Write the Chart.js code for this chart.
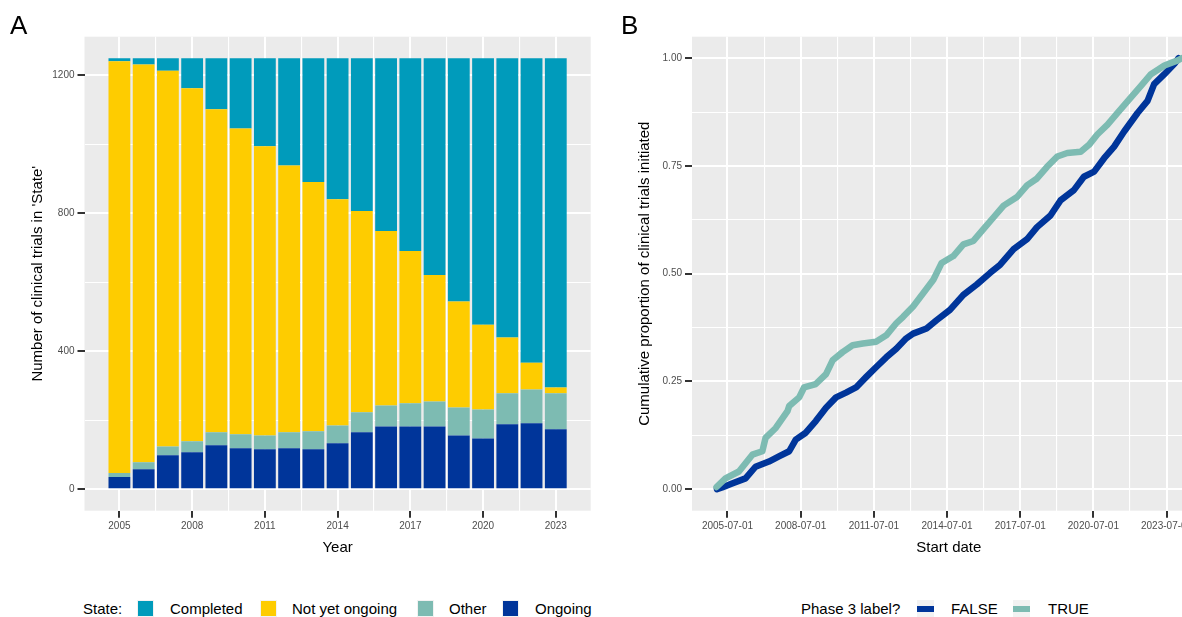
<!DOCTYPE html>
<html>
<head>
<meta charset="utf-8">
<script src="https://cdn.jsdelivr.net/npm/chart.js@4.4.0/dist/chart.umd.min.js"></script>
<style>
  html, body { margin: 0; padding: 0; background: #fff; }
  body { position: relative; width: 1182px; height: 617px; overflow: hidden;
         font-family: 'Liberation Sans', Arial, sans-serif; }
  canvas { position: absolute; top: 0; }
  #chartA { left: 0; }
  #chartB { left: 600px; }
  .tag { position: absolute; top: 12px; font-size: 26px; line-height: 26px; color: #000; }
  .lg { position: absolute; top: 600px; font-size: 15px; line-height: 18px; color: #000; white-space: nowrap; }
  .key { position: absolute; top: 600px; width: 17px; height: 17px; background: #F2F2F2; }
  .key .fill { position: absolute; left: 1px; top: 1px; width: 15px; height: 15px; }
  .key .line { position: absolute; left: 0; top: 5.5px; width: 17px; height: 6px; }
</style>
</head>
<body>
<canvas id="chartA" width="600" height="580"></canvas>
<canvas id="chartB" width="620" height="580"></canvas>

<div class="tag" style="left:10px">A</div>
<div class="tag" style="left:621px">B</div>

<!-- legend A -->
<div class="lg" style="left:83px">State:</div>
<div class="key" style="left:137px"><div class="fill" style="background:#009BBB"></div></div>
<div class="lg" style="left:170px">Completed</div>
<div class="key" style="left:260px"><div class="fill" style="background:#FECC00"></div></div>
<div class="lg" style="left:292px">Not yet ongoing</div>
<div class="key" style="left:417px"><div class="fill" style="background:#7DBBB2"></div></div>
<div class="lg" style="left:449px">Other</div>
<div class="key" style="left:502px"><div class="fill" style="background:#00359A"></div></div>
<div class="lg" style="left:535px">Ongoing</div>

<!-- legend B -->
<div class="lg" style="left:801px">Phase 3 label?</div>
<div class="key" style="left:917px"><div class="line" style="background:#00359A"></div></div>
<div class="lg" style="left:951px">FALSE</div>
<div class="key" style="left:1013px"><div class="line" style="background:#7DBBB2"></div></div>
<div class="lg" style="left:1048px">TRUE</div>

<script>
// ---- panel A: trials by state per year ----
const years = [2005, 2006, 2007, 2008, 2009, 2010, 2011, 2012, 2013, 2014,
               2015, 2016, 2017, 2018, 2019, 2020, 2021, 2022, 2023];
const ongoing = [35, 58, 98, 107, 127, 119, 116, 119, 116, 133,
                 165, 182, 182, 182, 156, 147, 188, 191, 174];
const other = [12, 20, 26, 32, 38, 40, 40, 46, 52, 52,
               58, 61, 67, 72, 81, 84, 90, 98, 104];
const notYetOngoing = [1194, 1154, 1090, 1024, 937, 887, 839, 774, 723, 656,
                       584, 506, 442, 367, 307, 246, 162, 78, 17];
const completed = [9, 18, 36, 87, 148, 204, 255, 311, 359, 409,
                   443, 501, 559, 629, 706, 773, 810, 883, 955];

const yearTicks = [2005, 2008, 2011, 2014, 2017, 2020, 2023];
const yearMinor = [2006.5, 2009.5, 2012.5, 2015.5, 2018.5, 2021.5];
const countTicks = [0, 400, 800, 1200];
const countMinor = [200, 600, 1000];

// ---- panel B: cumulative proportion by start date (decimal years) ----
const falseYears = [2005.07, 2005.28, 2005.69, 2006.24, 2006.65, 2007.20, 2007.61, 2008.03, 2008.30, 2008.71,
                    2009.12, 2009.54, 2009.95, 2010.36, 2010.77, 2011.18, 2011.59, 2012.01, 2012.42, 2012.83,
                    2013.11, 2013.66, 2014.07, 2014.62, 2015.17, 2015.72, 2016.27, 2016.68, 2017.23, 2017.78,
                    2018.19, 2018.74, 2019.15, 2019.70, 2020.11, 2020.53, 2020.94, 2021.35, 2021.76, 2022.31,
                    2022.72, 2022.99, 2023.41, 2023.82, 2023.99];
const falseProp = [0.0, 0.004, 0.013, 0.025, 0.052, 0.064, 0.076, 0.088, 0.115, 0.131,
                   0.158, 0.189, 0.213, 0.224, 0.236, 0.260, 0.283, 0.306, 0.326, 0.350,
                   0.361, 0.373, 0.392, 0.416, 0.451, 0.475, 0.502, 0.521, 0.557, 0.580,
                   0.608, 0.635, 0.670, 0.694, 0.725, 0.737, 0.768, 0.795, 0.830, 0.873,
                   0.901, 0.940, 0.963, 0.987, 1.0];
const trueYears = [2005.05, 2005.42, 2005.97, 2006.52, 2006.93, 2007.06, 2007.48, 2007.96, 2008.03, 2008.44,
                   2008.64, 2009.12, 2009.54, 2009.81, 2010.22, 2010.63, 2011.05, 2011.59, 2012.01, 2012.42,
                   2012.70, 2013.11, 2013.53, 2013.94, 2014.28, 2014.76, 2015.17, 2015.58, 2016.00, 2016.41,
                   2016.82, 2017.37, 2017.78, 2018.19, 2018.60, 2019.02, 2019.43, 2019.98, 2020.32, 2020.66,
                   2021.08, 2021.49, 2022.04, 2022.45, 2022.86, 2023.41, 2023.96, 2024.12];
const trueProp = [0.005, 0.025, 0.041, 0.080, 0.088, 0.119, 0.142, 0.181, 0.193, 0.213,
                  0.236, 0.244, 0.267, 0.299, 0.318, 0.334, 0.338, 0.342, 0.357, 0.385,
                  0.400, 0.424, 0.455, 0.486, 0.525, 0.541, 0.568, 0.576, 0.604, 0.631,
                  0.658, 0.678, 0.705, 0.721, 0.748, 0.772, 0.780, 0.783, 0.799, 0.823,
                  0.846, 0.873, 0.909, 0.936, 0.963, 0.983, 0.995, 1.0];

const dateTicks = [2005.5, 2008.5, 2011.5, 2014.5, 2017.5, 2020.5, 2023.5];
const dateLabels = ['2005-07-01', '2008-07-01', '2011-07-01', '2014-07-01',
                    '2017-07-01', '2020-07-01', '2023-07-01'];
const dateMinor = [2007, 2010, 2013, 2016, 2019, 2022, 2025];
const propTicks = [0, 0.25, 0.5, 0.75, 1];
const propMinor = [0.125, 0.375, 0.625, 0.875];

const COLORS = {
  completed: '#009BBB',
  notYet: '#FECC00',
  other: '#7DBBB2',
  ongoing: '#00359A',
};

Chart.defaults.font.family = "'Liberation Sans', Arial, sans-serif";

// grey ggplot panel behind the grid
const panelBg = {
  id: 'panelBg',
  beforeDraw(chart) {
    const { ctx, chartArea: a } = chart;
    ctx.save();
    ctx.fillStyle = '#EBEBEB';
    ctx.fillRect(a.left, a.top, a.right - a.left, a.bottom - a.top);
    ctx.restore();
  },
};

// shared axis styling; majors get labels + tick marks, minors only a thin line
const axis = (majors, minors, labelFn, extra) => Object.assign({
  type: 'linear',
  afterBuildTicks: (s) => {
    s.ticks = majors.concat(minors).sort((a, b) => a - b).map((v) => ({ value: v }));
  },
  border: { display: false },
  grid: {
    color: '#FFFFFF',
    lineWidth: (c) => (c.tick && majors.includes(c.tick.value) ? 2 : 1.1),
    tickColor: (c) => (c.tick && majors.includes(c.tick.value) ? '#333333' : 'rgba(0,0,0,0)'),
    tickLength: 7,
    tickWidth: 2,
  },
  ticks: {
    autoSkip: false,
    maxRotation: 0,
    minRotation: 0,
    color: '#4D4D4D',
    font: { size: 10 },
    callback: (v) => (majors.includes(v) ? labelFn(v) : ''),
  },
}, extra);

const titleFont = { size: 15 };

new Chart(document.getElementById('chartA'), {
  type: 'bar',
  data: {
    datasets: [
      { label: 'Ongoing', data: years.map((y, i) => ({ x: y, y: ongoing[i] })), backgroundColor: COLORS.ongoing },
      { label: 'Other', data: years.map((y, i) => ({ x: y, y: other[i] })), backgroundColor: COLORS.other },
      { label: 'Not yet ongoing', data: years.map((y, i) => ({ x: y, y: notYetOngoing[i] })), backgroundColor: COLORS.notYet },
      { label: 'Completed', data: years.map((y, i) => ({ x: y, y: completed[i] })), backgroundColor: COLORS.completed },
    ],
  },
  plugins: [panelBg],
  options: {
    responsive: false,
    animation: false,
    events: [],
    layout: { padding: { left: 20, right: 9.3, top: 36.7, bottom: 20 } },
    datasets: { bar: { categoryPercentage: 1, barPercentage: 0.9, borderWidth: 0 } },
    plugins: { legend: { display: false }, tooltip: { enabled: false } },
    scales: {
      x: axis(yearTicks, yearMinor, (v) => String(v), {
        min: 2003.56, max: 2024.44, offset: false, stacked: true,
        afterFit: (s) => { s.height = 49.3; },
        title: { display: true, text: 'Year', color: '#000', font: titleFont, padding: { top: 0, bottom: 3 } },
      }),
      y: axis(countTicks, countMinor, (v) => String(v), {
        min: -62.5, max: 1312.5, stacked: true,
        afterFit: (s) => { s.width = 64.5; },
        title: { display: true, text: "Number of clinical trials in 'State'", color: '#000', font: titleFont, padding: { top: 8.5, bottom: 0 } },
      }),
    },
  },
});

// bar charts put grid lines between categories by default; keep them on the values
Chart.getChart('chartA').options.scales.x.grid.offset = false;
Chart.getChart('chartA').update();

new Chart(document.getElementById('chartB'), {
  type: 'line',
  data: {
    datasets: [
      { label: 'TRUE', data: trueYears.map((x, i) => ({ x, y: trueProp[i] })), borderColor: COLORS.other },
      { label: 'FALSE', data: falseYears.map((x, i) => ({ x, y: falseProp[i] })), borderColor: COLORS.ongoing },
    ],
  },
  plugins: [panelBg],
  options: {
    responsive: false,
    animation: false,
    events: [],
    layout: { padding: { left: 30, right: 14.4, top: 36.7, bottom: 20 } },
    elements: {
      point: { radius: 0 },
      line: { borderWidth: 6.5, tension: 0, borderJoinStyle: 'round', borderCapStyle: 'round', fill: false },
    },
    plugins: { legend: { display: false }, tooltip: { enabled: false } },
    scales: {
      x: axis(dateTicks, dateMinor, (v) => dateLabels[dateTicks.indexOf(v)], {
        min: 2004.046, max: 2025.1,
        afterFit: (s) => { s.height = 49.3; },
        title: { display: true, text: 'Start date', color: '#000', font: titleFont, padding: { top: 0, bottom: 3 } },
      }),
      y: axis(propTicks, propMinor, (v) => v.toFixed(2), {
        min: -0.05, max: 1.05,
        afterFit: (s) => { s.width = 62; },
        title: { display: true, text: 'Cumulative proportion of clinical trials initiated', color: '#000', font: titleFont, padding: { top: 5.4, bottom: 0 } },
      }),
    },
  },
});
</script>
</body>
</html>
